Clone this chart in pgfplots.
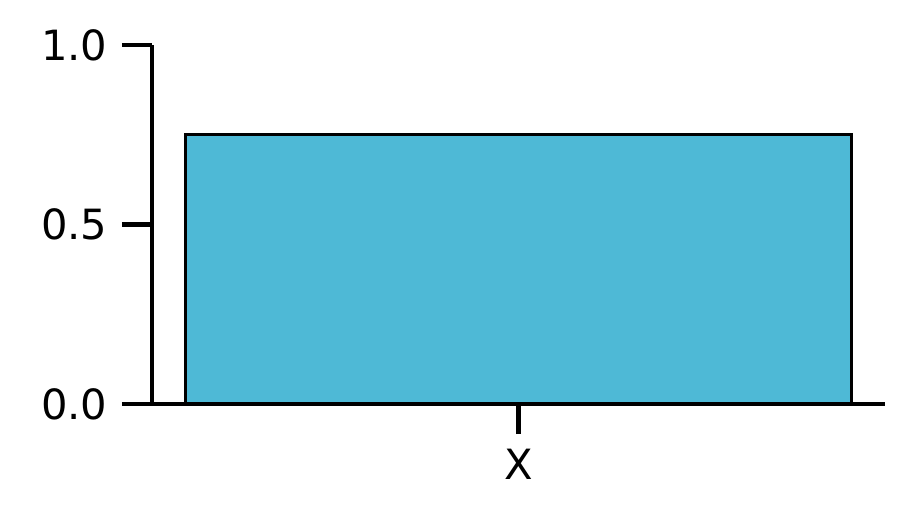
\documentclass[border=0pt]{standalone}
\usepackage{pgfplots}
\pgfplotsset{compat=1.18}
\usepackage{fontspec}
\setmainfont{DejaVu Sans}
\definecolor{barc}{RGB}{78,185,214}
\begin{document}
\begin{tikzpicture}
\path[use as bounding box] (-36.48pt,-29.76pt) rectangle (182.88pt,96.96pt);
\begin{axis}[at={(0,0)},anchor=south west,scale only axis,
 width=175.9pt,height=86.2pt,
 xmin=-0.44,xmax=0.44,ymin=0,ymax=1,
 axis x line=bottom, axis y line=left,
 axis line style={-,line width=1pt},
 tick align=outside, major tick length=7.2pt,
 tick style={line width=1pt,black},
 xtick={0},xticklabels={X},
 ytick={0,0.5,1},
 yticklabel style={/pgf/number format/.cd,fixed,fixed zerofill,precision=1},
 /pgf/number format/assume math mode=true,
 ticklabel style={font=\fontsize{10pt}{12pt}\selectfont},
 ]
\addplot[ybar,bar width=0.8,fill=barc,draw=black,line width=0.8pt] coordinates {(0,0.75)};
\end{axis}
\end{tikzpicture}
\end{document}
